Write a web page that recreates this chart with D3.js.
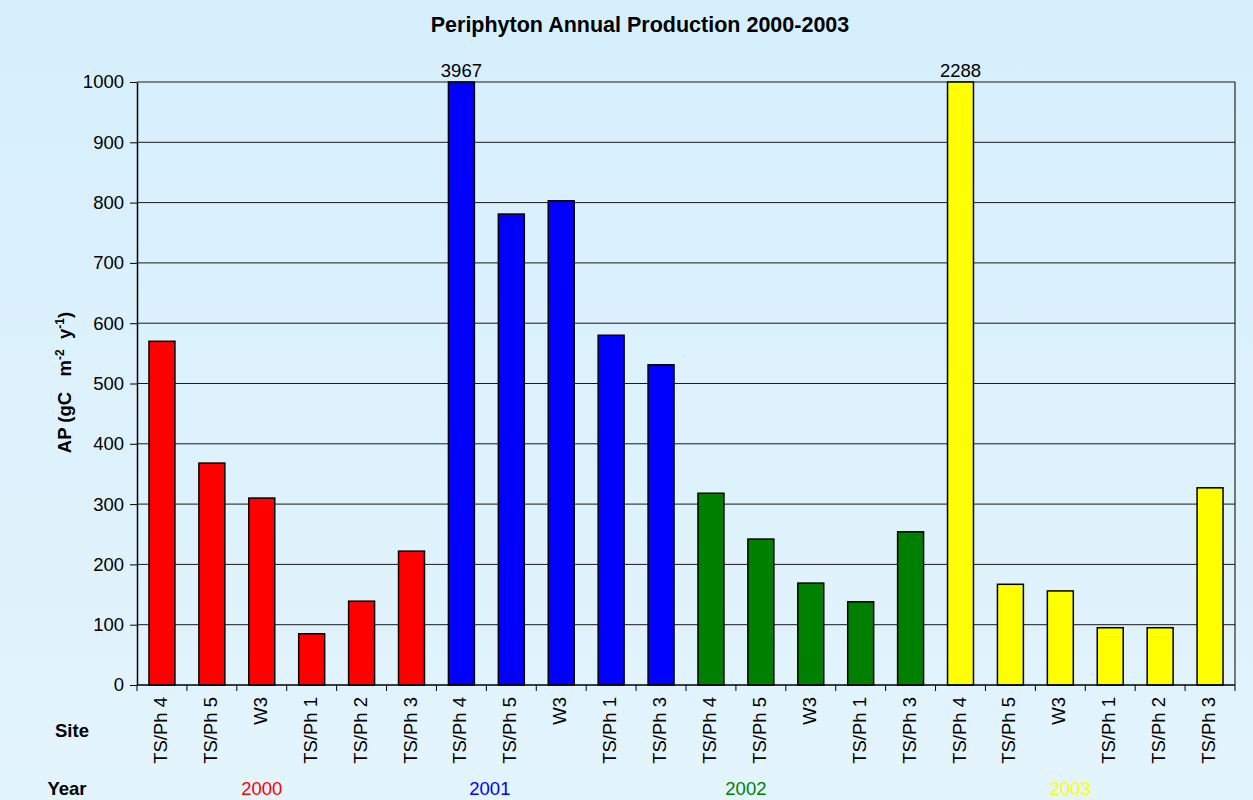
<!DOCTYPE html>
<html>
<head>
<meta charset="utf-8">
<script src="https://cdn.jsdelivr.net/npm/d3@7"></script>
<style>
  html, body { margin: 0; padding: 0; }
  body { width: 1253px; height: 800px; overflow: hidden; }
  text { font-family: Arial, "Liberation Sans", sans-serif; }
</style>
</head>
<body>
<svg id="drawing_region"></svg>
<script>
// data
const sites = ["TS/Ph 4", "TS/Ph 5", "W3", "TS/Ph 1", "TS/Ph 2", "TS/Ph 3",
               "TS/Ph 4", "TS/Ph 5", "W3", "TS/Ph 1", "TS/Ph 3",
               "TS/Ph 4", "TS/Ph 5", "W3", "TS/Ph 1", "TS/Ph 3",
               "TS/Ph 4", "TS/Ph 5", "W3", "TS/Ph 1", "TS/Ph 2", "TS/Ph 3"];
const years = ["2000", "2000", "2000", "2000", "2000", "2000",
               "2001", "2001", "2001", "2001", "2001",
               "2002", "2002", "2002", "2002", "2002",
               "2003", "2003", "2003", "2003", "2003", "2003"];
const production = [570, 368, 310, 85, 139, 222,
                    3967, 781, 803, 580, 531,
                    318, 242, 169, 138, 254,
                    2288, 167, 156, 95, 95, 327];
const yearNames = ["2000", "2001", "2002", "2003"];
const yearColors = ["#ff0000", "#0000ff", "#008000", "#ffff00"];
const yTicks = [0, 100, 200, 300, 400, 500, 600, 700, 800, 900, 1000];
const yMax = 1000;

const data = production.map((v, i) => ({ i: i, site: sites[i], year: years[i], value: v }));

const config = {
    width: 1253,
    height: 800,
    margin: { top: 82, right: 18, bottom: 115, left: 137 }
};
const fs = '18.5px';

const svg = d3.select('#drawing_region')
    .attr('width', config.width)
    .attr('height', config.height);

// background gradient
const defs = svg.append('defs');
const grad = defs.append('linearGradient')
    .attr('id', 'bg').attr('x1', 0).attr('y1', 0).attr('x2', 0).attr('y2', 1);
grad.append('stop').attr('offset', '0%').attr('stop-color', '#d6effd');
grad.append('stop').attr('offset', '100%').attr('stop-color', '#e3f4fc');
svg.append('rect')
    .attr('width', config.width).attr('height', config.height)
    .attr('fill', 'url(#bg)');

const inner_width = config.width - config.margin.left - config.margin.right;
const inner_height = config.height - config.margin.top - config.margin.bottom;

const chart = svg.append('g')
    .attr('transform', `translate(${config.margin.left}, ${config.margin.top})`);

const xscale = d3.scaleBand()
    .domain(data.map(d => d.i))
    .range([0, inner_width])
    .paddingInner(0.48)
    .paddingOuter(0.24);

const yscale = d3.scaleLinear()
    .domain([0, yMax])
    .range([inner_height, 0]);

const color = d3.scaleOrdinal().domain(yearNames).range(yearColors);

// gridlines
chart.append('g')
    .selectAll('line')
    .data(yTicks.filter(t => t > 0))
    .enter()
    .append('line')
    .attr('x1', 0).attr('x2', inner_width)
    .attr('y1', d => yscale(d)).attr('y2', d => yscale(d))
    .attr('stroke', '#1a1a1a')
    .attr('stroke-width', 1);

// right border
chart.append('line')
    .attr('x1', inner_width).attr('x2', inner_width)
    .attr('y1', 0).attr('y2', inner_height)
    .attr('stroke', '#000').attr('stroke-width', 1);

// bars
chart.append('g')
    .selectAll('rect')
    .data(data)
    .enter()
    .append('rect')
    .attr('x', d => xscale(d.i))
    .attr('y', d => yscale(Math.min(d.value, yMax)))
    .attr('width', xscale.bandwidth())
    .attr('height', d => inner_height - yscale(Math.min(d.value, yMax)))
    .attr('fill', d => color(d.year))
    .attr('stroke', '#000')
    .attr('stroke-width', 1.5);

// value labels on clipped bars
chart.append('g')
    .selectAll('text')
    .data(data.filter(d => d.value > yMax))
    .enter()
    .append('text')
    .attr('x', d => xscale(d.i) + xscale.bandwidth() / 2)
    .attr('y', -5)
    .attr('text-anchor', 'middle')
    .attr('font-size', fs)
    .attr('fill', '#000')
    .text(d => d.value);

// y axis
const yaxis = d3.axisLeft(yscale)
    .tickValues(yTicks)
    .tickFormat(d3.format('d'))
    .tickSize(7)
    .tickSizeOuter(0)
    .tickPadding(6);
const yaxis_group = chart.append('g').call(yaxis);
yaxis_group.attr('font-size', null).attr('font-family', null);
yaxis_group.select('.domain').attr('stroke', '#000').attr('stroke-width', 1.5);
yaxis_group.selectAll('.tick line').attr('stroke', '#000');
yaxis_group.selectAll('.tick text')
    .attr('font-size', fs)
    .attr('fill', '#000');

// x axis baseline and ticks between bands
const step = xscale.step();
const x0 = xscale(0) - xscale.paddingOuter() * step;
chart.append('line')
    .attr('x1', 0).attr('x2', inner_width)
    .attr('y1', inner_height).attr('y2', inner_height)
    .attr('stroke', '#000').attr('stroke-width', 1.5);
chart.append('g')
    .selectAll('line')
    .data(d3.range(data.length + 1))
    .enter()
    .append('line')
    .attr('x1', k => x0 + k * step)
    .attr('x2', k => x0 + k * step)
    .attr('y1', inner_height).attr('y2', inner_height + 6)
    .attr('stroke', '#000');

// site labels
chart.append('g')
    .selectAll('text')
    .data(data)
    .enter()
    .append('text')
    .attr('transform', d => `translate(${xscale(d.i) + xscale.bandwidth() / 2 + 5}, ${inner_height + 12}) rotate(-90)`)
    .attr('text-anchor', 'end')
    .attr('font-size', fs)
    .attr('fill', '#000')
    .text(d => d.site);

// Site / Year row captions
svg.append('text')
    .attr('x', 72).attr('y', 737)
    .attr('text-anchor', 'middle')
    .attr('font-size', fs).attr('font-weight', 'bold')
    .text('Site');
svg.append('text')
    .attr('x', 67).attr('y', 795)
    .attr('text-anchor', 'middle')
    .attr('font-size', fs).attr('font-weight', 'bold')
    .text('Year');

// year labels (placed under a band of each group, as in the source table)
const yearLabelBand = [2.5, 7.07, 12.2, 18.7];
svg.append('g')
    .selectAll('text')
    .data(yearNames)
    .enter()
    .append('text')
    .attr('x', (d, k) => config.margin.left + x0 + yearLabelBand[k] * step)
    .attr('y', 795)
    .attr('text-anchor', 'middle')
    .attr('font-size', fs)
    .attr('fill', d => color(d))
    .text(d => d);

// title
svg.append('text')
    .attr('x', 640).attr('y', 32)
    .attr('text-anchor', 'middle')
    .attr('font-size', '21.5px').attr('font-weight', 'bold')
    .text('Periphyton Annual Production 2000-2003');

// y axis title
const ylab = svg.append('text')
    .attr('transform', `translate(71, ${config.margin.top + inner_height / 2 - 1}) rotate(-90)`)
    .attr('text-anchor', 'middle')
    .attr('font-size', fs).attr('font-weight', 'bold');
ylab.append('tspan').text('AP (gC\u00a0\u00a0\u00a0m');
ylab.append('tspan').attr('dy', -7).attr('font-size', '12px').text('-2');
ylab.append('tspan').attr('dy', 7).text('\u00a0\u00a0y');
ylab.append('tspan').attr('dy', -7).attr('font-size', '12px').text('-1');
ylab.append('tspan').attr('dy', 7).text(')');
</script>
</body>
</html>
